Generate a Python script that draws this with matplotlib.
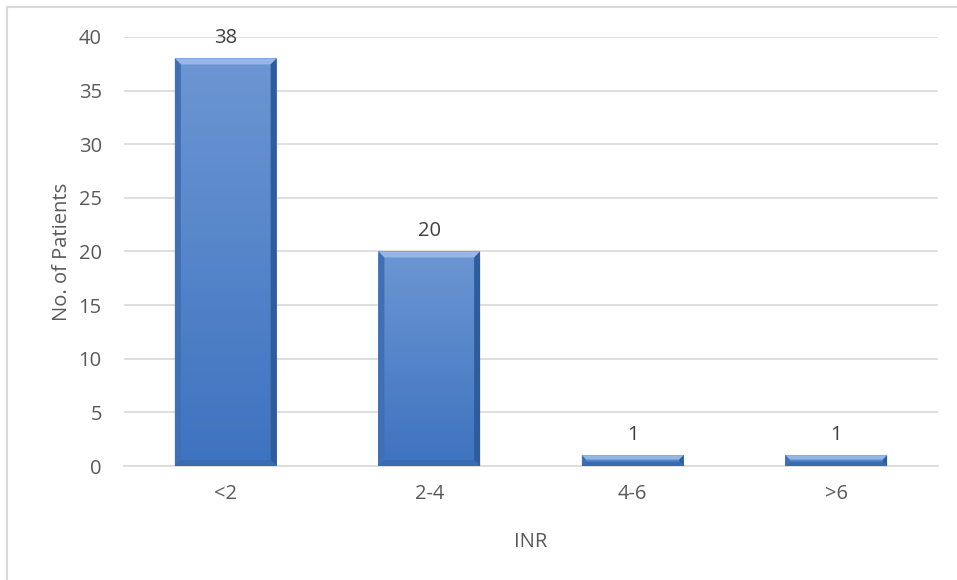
import numpy as np
import matplotlib
matplotlib.use("Agg")
from matplotlib import pyplot as plt
from matplotlib.patches import Polygon, Rectangle

categories = ["<2", "2-4", "4-6", ">6"]
patients = [38, 20, 1, 1]
yticks = [0, 5, 10, 15, 20, 25, 30, 35, 40]

plt.rcParams['font.family'] = ['Open Sans', 'DejaVu Sans']
textcolor = "#595959"
fsize = 14.5

fig = plt.figure(figsize=(9.57, 5.80), dpi=100)
ax = fig.add_axes([124 / 957, 114 / 580, 814 / 957, 429 / 580])

x = np.arange(len(categories))
bars = ax.bar(x, patients, width=0.5, color="#4A7DC6", zorder=3)

ax.set_xlim(-0.5, len(categories) - 0.5)
ax.set_ylim(0, 40)
ax.set_yticks(yticks)
ax.set_xticks(x)
ax.set_xticklabels(categories)
ax.tick_params(axis="both", length=0, colors=textcolor, labelsize=fsize)
ax.tick_params(axis="y", pad=16)
ax.tick_params(axis="x", pad=13)
ax.grid(axis="y", color="#d9d9d9", linewidth=1.2, zorder=0)
for side in ["top", "right", "left"]:
    ax.spines[side].set_visible(False)
ax.spines["bottom"].set_color("#d9d9d9")
ax.spines["bottom"].set_linewidth(1.2)

ax.set_ylabel("No. of Patients", color=textcolor, fontsize=fsize, labelpad=5)
ax.set_xlabel("INR", color=textcolor, fontsize=fsize, labelpad=20)

# bevelled look: vertical gradient face + light top edge + shaded sides
fig.canvas.draw()
inv = ax.transData.inverted()
facecmap = matplotlib.colors.LinearSegmentedColormap.from_list("face", ["#3e73c0", "#6c96d3"])
for bar, val in zip(bars, patients):
    x0, y0 = bar.get_x(), bar.get_y()
    w, h = bar.get_width(), bar.get_height()
    p0 = ax.transData.transform((x0, y0))
    p1 = ax.transData.transform((x0 + w, y0 + h))
    bev = min(6, (p1[1] - p0[1]) / 2.5)
    q = inv.transform((p0[0] + bev, p0[1] + bev))
    dx, dy = q[0] - x0, q[1] - y0

    grad = np.linspace(0, 1, 64).reshape(-1, 1)
    ax.imshow(grad, extent=(x0, x0 + w, y0, y0 + h), origin="lower", aspect="auto",
              cmap=facecmap, zorder=3.1)
    # top bevel
    ax.add_patch(Polygon([(x0, y0 + h), (x0 + w, y0 + h), (x0 + w - dx, y0 + h - dy), (x0 + dx, y0 + h - dy)],
                         closed=True, color="#94b8e6", zorder=3.2, lw=0))
    # left bevel
    ax.add_patch(Polygon([(x0, y0), (x0, y0 + h), (x0 + dx, y0 + h - dy), (x0 + dx, y0 + dy)],
                         closed=True, color="#3f6fb4", zorder=3.2, lw=0))
    # right bevel
    ax.add_patch(Polygon([(x0 + w, y0), (x0 + w, y0 + h), (x0 + w - dx, y0 + h - dy), (x0 + w - dx, y0 + dy)],
                         closed=True, color="#2f5c9c", zorder=3.2, lw=0))
    # bottom bevel
    ax.add_patch(Polygon([(x0, y0), (x0 + w, y0), (x0 + w - dx, y0 + dy), (x0 + dx, y0 + dy)],
                         closed=True, color="#3a6ab0", zorder=3.2, lw=0))
    ax.text(x0 + w / 2, val + 1.0, str(val), ha="center", va="bottom",
            color="#404040", fontsize=fsize)

ax.set_xlim(-0.5, len(categories) - 0.5)
ax.set_ylim(0, 40)

# outer chart frame
fig.patches.append(Rectangle((6.5 / 957, -0.1), 1.2, 1.1 - 6.5 / 580, transform=fig.transFigure,
                             fill=False, edgecolor="#d9d9d9", linewidth=1.5))

fig.savefig("out.png", dpi=100)
